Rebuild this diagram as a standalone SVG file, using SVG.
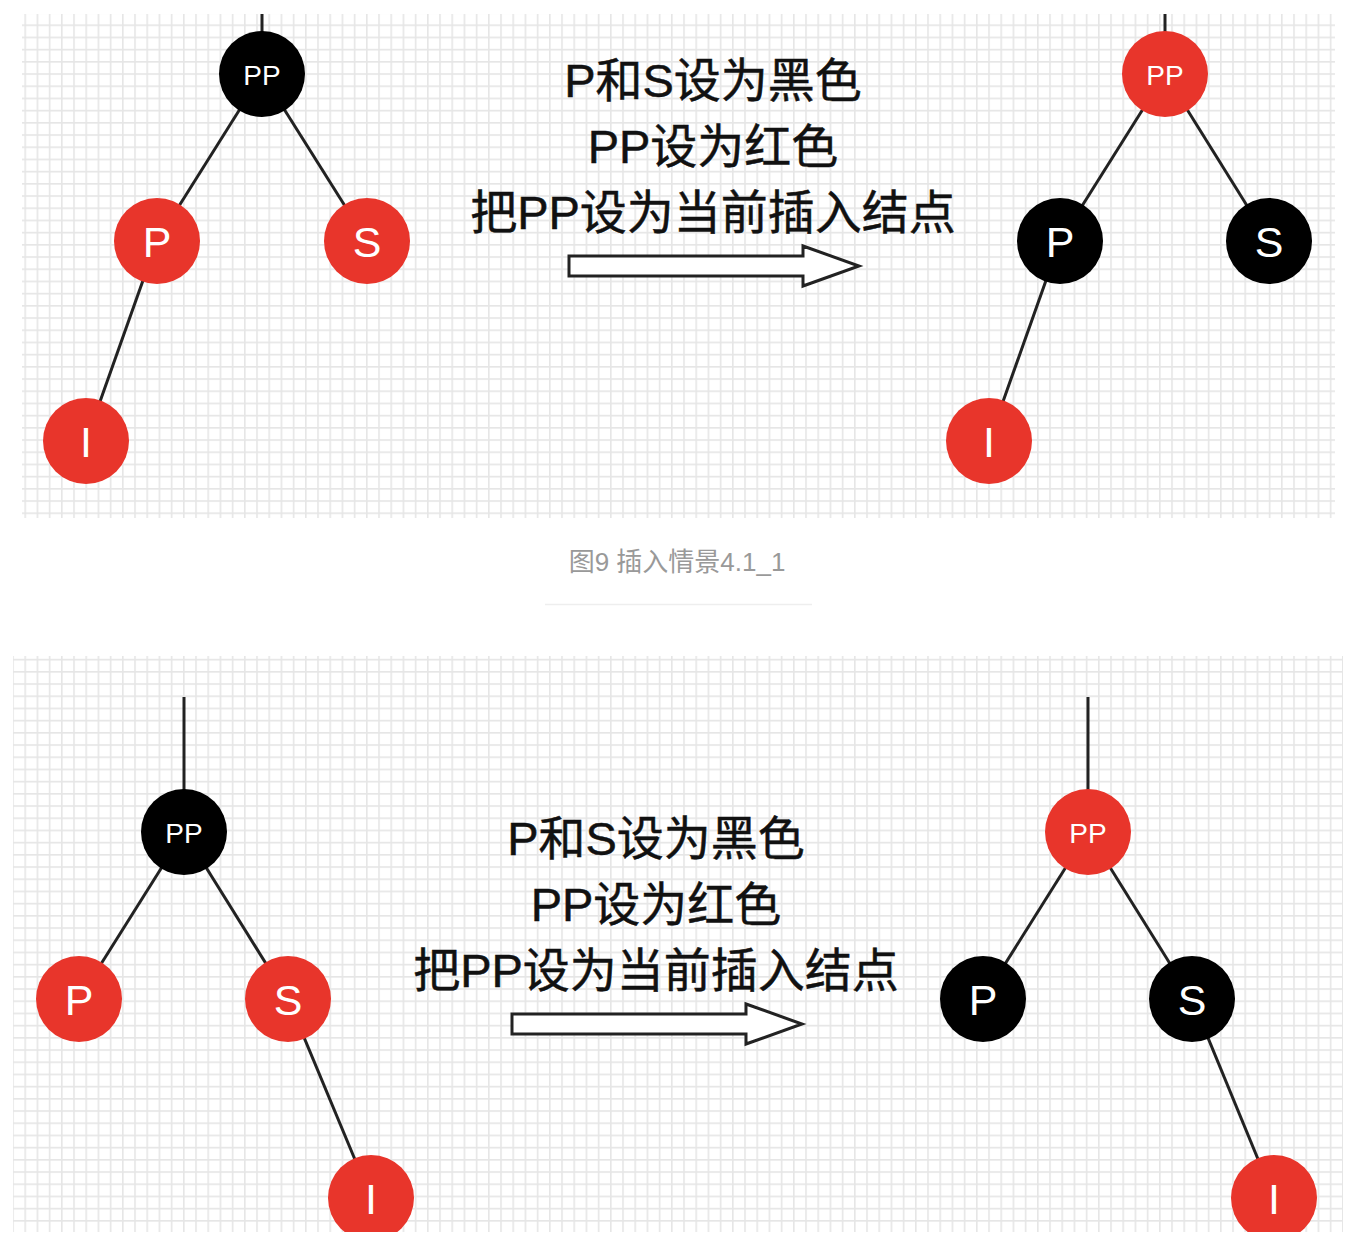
<svg xmlns="http://www.w3.org/2000/svg" width="1352" height="1244" viewBox="0 0 1352 1244">
<defs>
<pattern id="grid" width="12.2" height="12.2" patternUnits="userSpaceOnUse">
<rect width="12.2" height="12.2" fill="#ffffff"/>
<path d="M0 0.8H12.2M0.8 0V12.2" stroke="#e6e6e6" stroke-width="1.6" fill="none"/>
</pattern>
<clipPath id="c1"><rect x="22" y="14" width="1313" height="504"/></clipPath>
<clipPath id="c2"><rect x="13" y="656" width="1330" height="576"/></clipPath>
<style>
.edge{stroke:#222;stroke-width:3;fill:none}
.red{fill:#e8352b}
.blk{fill:#000}
.lbl{fill:#fff;font-family:"Liberation Sans","Noto Sans",sans-serif;text-anchor:middle;dominant-baseline:central}
.big{font-size:43px}
.small{font-size:28px}
.txt{fill:#111;font-family:"Liberation Sans","Noto Sans CJK SC",sans-serif;font-size:47px;text-anchor:middle;stroke:#111;stroke-width:0.5}
.arrow{fill:#fff;stroke:#222;stroke-width:3;stroke-linejoin:miter}
</style>
</defs>
<rect width="1352" height="1244" fill="#fff"/>
<rect x="22" y="14" width="1313" height="504" fill="url(#grid)"/>
<rect x="13" y="656" width="1330" height="576" fill="url(#grid)"/>

<g id="connectors">
<g clip-path="url(#c1)">
<line class="edge" x1="262" y1="14" x2="262" y2="74"/>
<line class="edge" x1="262" y1="74" x2="157" y2="241"/>
<line class="edge" x1="262" y1="74" x2="367" y2="241"/>
<line class="edge" x1="157" y1="241" x2="86" y2="441"/>
<line class="edge" x1="1165" y1="14" x2="1165" y2="74"/>
<line class="edge" x1="1165" y1="74" x2="1060" y2="241"/>
<line class="edge" x1="1165" y1="74" x2="1269" y2="241"/>
<line class="edge" x1="1060" y1="241" x2="989" y2="441"/>
</g>
<g clip-path="url(#c2)">
<line class="edge" x1="184" y1="697" x2="184" y2="832"/>
<line class="edge" x1="184" y1="832" x2="79" y2="999"/>
<line class="edge" x1="184" y1="832" x2="288" y2="999"/>
<line class="edge" x1="288" y1="999" x2="371" y2="1198"/>
<line class="edge" x1="1088" y1="697" x2="1088" y2="832"/>
<line class="edge" x1="1088" y1="832" x2="983" y2="999"/>
<line class="edge" x1="1088" y1="832" x2="1192" y2="999"/>
<line class="edge" x1="1192" y1="999" x2="1274" y2="1198"/>
</g>
<path class="arrow" d="M569 256H803V246L859 266L803 286V276H569Z"/>
<path class="arrow" d="M512 1014H746V1004L802 1024L746 1044V1034H512Z"/>
</g>

<g clip-path="url(#c1)">
<g id="n1-pp"><circle class="blk" cx="262" cy="74" r="43"/><text class="lbl small" x="262" y="75">PP</text></g>
<g id="n1-p"><circle class="red" cx="157" cy="241" r="43"/><text class="lbl big" x="157" y="242">P</text></g>
<g id="n1-s"><circle class="red" cx="367" cy="241" r="43"/><text class="lbl big" x="367" y="242">S</text></g>
<g id="n1-i"><circle class="red" cx="86" cy="441" r="43"/><text class="lbl big" x="86" y="442">I</text></g>
<g id="n2-pp"><circle class="red" cx="1165" cy="74" r="43"/><text class="lbl small" x="1165" y="75">PP</text></g>
<g id="n2-p"><circle class="blk" cx="1060" cy="241" r="43"/><text class="lbl big" x="1060" y="242">P</text></g>
<g id="n2-s"><circle class="blk" cx="1269" cy="241" r="43"/><text class="lbl big" x="1269" y="242">S</text></g>
<g id="n2-i"><circle class="red" cx="989" cy="441" r="43"/><text class="lbl big" x="989" y="442">I</text></g>
</g>

<g clip-path="url(#c2)">
<g id="n3-pp"><circle class="blk" cx="184" cy="832" r="43"/><text class="lbl small" x="184" y="833">PP</text></g>
<g id="n3-p"><circle class="red" cx="79" cy="999" r="43"/><text class="lbl big" x="79" y="1000">P</text></g>
<g id="n3-s"><circle class="red" cx="288" cy="999" r="43"/><text class="lbl big" x="288" y="1000">S</text></g>
<g id="n3-i"><circle class="red" cx="371" cy="1198" r="43"/><text class="lbl big" x="371" y="1199">I</text></g>
<g id="n4-pp"><circle class="red" cx="1088" cy="832" r="43"/><text class="lbl small" x="1088" y="833">PP</text></g>
<g id="n4-p"><circle class="blk" cx="983" cy="999" r="43"/><text class="lbl big" x="983" y="1000">P</text></g>
<g id="n4-s"><circle class="blk" cx="1192" cy="999" r="43"/><text class="lbl big" x="1192" y="1000">S</text></g>
<g id="n4-i"><circle class="red" cx="1274" cy="1198" r="43"/><text class="lbl big" x="1274" y="1199">I</text></g>
</g>

<g id="label1">
<text class="txt" x="713" y="97">P和S设为黑色</text>
<text class="txt" x="713" y="163">PP设为红色</text>
<text class="txt" x="713" y="229">把PP设为当前插入结点</text>
</g>
<g id="label2">
<text class="txt" x="656" y="855">P和S设为黑色</text>
<text class="txt" x="656" y="921">PP设为红色</text>
<text class="txt" x="656" y="987">把PP设为当前插入结点</text>
</g>

<g id="caption">
<text x="677" y="571" fill="#999" font-family="'Liberation Sans','Noto Sans CJK SC',sans-serif" font-size="26" text-anchor="middle">图9 插入情景4.1_1</text>
<line x1="545" y1="604.5" x2="812" y2="604.5" stroke="#eeeeee" stroke-width="1.5"/>
</g>
</svg>
